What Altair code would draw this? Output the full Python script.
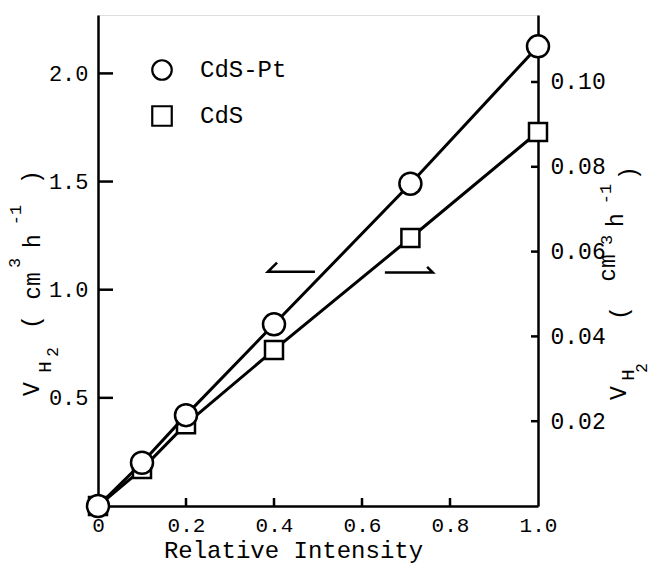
import altair as alt
import pandas as pd

# ---- data ----
intensity = [0.0, 0.1, 0.2, 0.4, 0.71, 1.0]
v_cdspt = [0.0, 0.20, 0.42, 0.84, 1.49, 2.125]        # left axis (cm3 h-1)
v_cds = [0.0, 0.0087, 0.0193, 0.0368, 0.0632, 0.0882]  # right axis (cm3 h-1)

x_ticks = [0.0, 0.2, 0.4, 0.6, 0.8, 1.0]
left_ticks = [0.5, 1.0, 1.5, 2.0]
right_ticks = [0.02, 0.04, 0.06, 0.08, 0.10]

# half-arrow annotations (x, left-axis y)
arrow_id = ["L", "L", "L", "R", "R", "R"]
arrow_x = [0.407, 0.386, 0.493, 0.652, 0.761, 0.748]
arrow_y = [1.125, 1.083, 1.083, 1.079, 1.079, 1.106]

W, H = 440, 491
FONT = "Liberation Mono"
XDOM = [0, 1.0]
LDOM = [0, 2.27]
RDOM = [0, 0.1158]

df_pt = pd.DataFrame({"x": intensity, "y": v_cdspt, "s": ["CdS-Pt"] * len(intensity)})
df_cds = pd.DataFrame({"x": intensity, "y": v_cds, "s": ["CdS"] * len(intensity)})
df_arrow = pd.DataFrame({"id": arrow_id, "x": arrow_x, "y": arrow_y, "o": list(range(len(arrow_id)))})

xs = alt.Scale(domain=XDOM, nice=False, zero=False)
ls = alt.Scale(domain=LDOM, nice=False, zero=False)
rs = alt.Scale(domain=RDOM, nice=False, zero=False)
shape_scale = alt.Scale(domain=["CdS-Pt", "CdS"], range=["circle", "square"])

common = dict(grid=False, ticks=False, domainColor="black", domainWidth=2.5,
              labelFont=FONT, labelColor="black", labelFlush=False)

x_axis = alt.Axis(values=x_ticks, labelExpr="datum.value == 0 ? '0' : format(datum.value, '.1f')",
                  title="Relative Intensity", titleFont=FONT, titleFontSize=24, titleFontWeight="normal",
                  titleColor="black", titlePadding=3, titleX=195, titleAnchor="start", titleAlign="center",
                  labelPadding=8, labelFontSize=21, **common)


def txt(t, px, py, size=23, angle=270):
    return alt.Chart(pd.DataFrame({"t": [t]})).mark_text(
        font=FONT, fontSize=size, angle=angle, color="black", align="center", baseline="middle"
    ).encode(text="t:N", x=alt.value(px), y=alt.value(py))


# ---- left (CdS-Pt) group ----
l_line = alt.Chart(df_pt).mark_line(color="black", strokeWidth=3).encode(
    x=alt.X("x:Q", scale=xs, axis=x_axis),
    y=alt.Y("y:Q", scale=ls, axis=alt.Axis(orient="left", values=left_ticks, format=".1f", title=None,
                                            labelPadding=10, labelFontSize=22, **common)),
)
l_pts = alt.Chart(df_pt).mark_point(filled=True, fill="white", stroke="black", strokeWidth=2.5,
                                    size=484, opacity=1).encode(
    x=alt.X("x:Q", scale=xs),
    y=alt.Y("y:Q", scale=ls),
    shape=alt.Shape("s:N", scale=shape_scale, legend=alt.Legend(
        title=None, orient="none", legendX=52, legendY=43, rowPadding=16, labelFont=FONT,
        labelFontSize=24, symbolSize=380, symbolStrokeWidth=2.2, symbolFillColor="white",
        symbolStrokeColor="black", labelOffset=26, padding=0, labelColor="black")),
)
l_tick = alt.Chart(pd.DataFrame({"v": left_ticks})).mark_rule(color="black", strokeWidth=2.5).encode(
    y=alt.Y("v:Q", scale=ls), x=alt.value(0), x2=alt.value(15))
x_tick = alt.Chart(pd.DataFrame({"v": x_ticks[1:-1]})).mark_rule(color="black", strokeWidth=2.5).encode(
    x=alt.X("v:Q", scale=xs), y=alt.value(H), y2=alt.value(H - 8))
arrows = alt.Chart(df_arrow).mark_line(color="black", strokeWidth=2.5).encode(
    x=alt.X("x:Q", scale=xs), y=alt.Y("y:Q", scale=ls), detail="id:N", order="o:Q")

left_title = [
    txt("V", -66, 374, 23), txt("H", -53, 352, 19), txt("2", -45, 337, 16),
    txt("(", -66, 307), txt("cm", -65, 271), txt("3", -83, 248, 17),
    txt("h", -65, 226), txt("-1", -82, 200, 17), txt(")", -66, 162),
]

left_group = alt.layer(l_line, arrows, l_tick, x_tick, l_pts, *left_title)

# ---- right (CdS) group ----
r_line = alt.Chart(df_cds).mark_line(color="black", strokeWidth=3).encode(
    x=alt.X("x:Q", scale=xs),
    y=alt.Y("y:Q", scale=rs, axis=alt.Axis(orient="right", values=right_ticks, format=".2f", title=None,
                                            labelPadding=12, labelFontSize=23, **common)),
)
r_pts = alt.Chart(df_cds).mark_point(filled=True, fill="white", stroke="black", strokeWidth=2.5,
                                     size=324, opacity=1).encode(
    x=alt.X("x:Q", scale=xs),
    y=alt.Y("y:Q", scale=rs),
    shape=alt.Shape("s:N", scale=shape_scale),
)
r_tick = alt.Chart(pd.DataFrame({"v": right_ticks})).mark_rule(color="black", strokeWidth=2.5).encode(
    y=alt.Y("v:Q", scale=rs), x=alt.value(W), x2=alt.value(W - 7))

right_title = [
    txt("V", 521, 378, 23), txt("H", 530, 360, 19), txt("2", 544, 353, 16),
    txt("(", 522, 298), txt("cm", 510, 253), txt("3", 509, 225, 17),
    txt("h", 518, 205), txt("-1", 508, 179, 17), txt(")", 531, 158),
]

right_group = alt.layer(r_line, r_tick, r_pts, *right_title)

chart = alt.layer(right_group, left_group).resolve_scale(y="independent").properties(
    width=W, height=H,
    autosize=alt.AutoSizeParams(type="none"),
    padding={"left": 98, "top": 15, "right": 115, "bottom": 62},
).configure_view(stroke=None).configure(background="white")

chart.save("out.html", embed_options={"renderer": "svg", "actions": False})
